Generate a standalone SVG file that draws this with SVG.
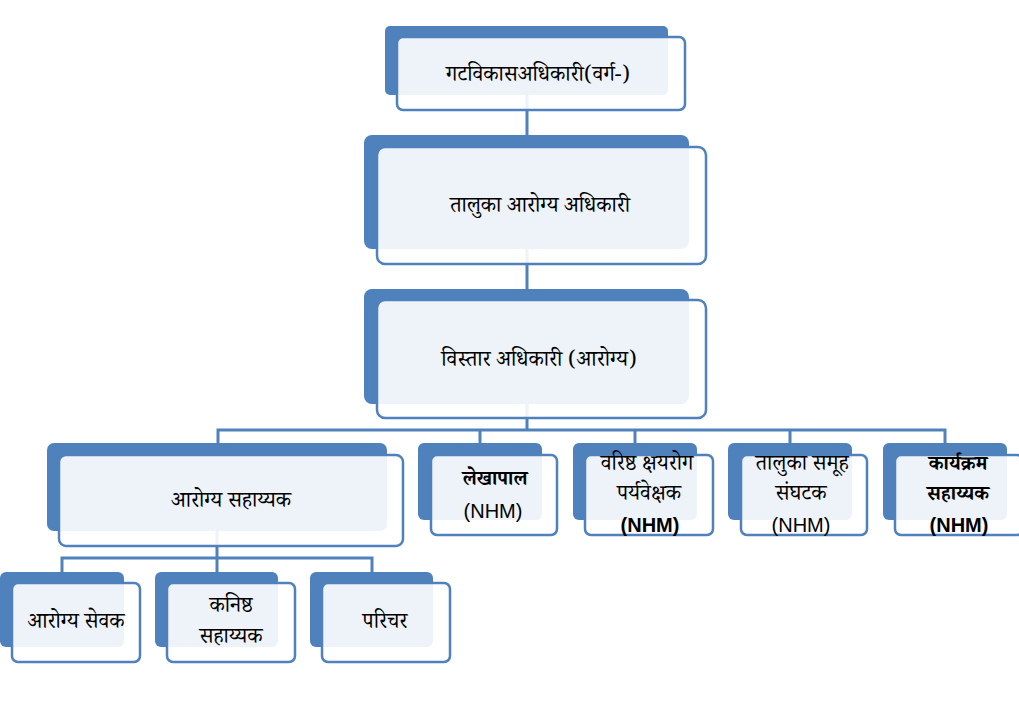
<svg xmlns="http://www.w3.org/2000/svg" width="1019" height="701" viewBox="0 0 1019 701">
<style>
.back{fill:#4F81BD}
.front{fill:#FFFFFF;fill-opacity:0.9;stroke:#4F81BD;stroke-width:2.5}
.conn{fill:none;stroke:#4F81BD;stroke-width:3}
.t{font-family:"Noto Serif Devanagari","Noto Sans Devanagari","Lohit Devanagari","Noto Sans",serif;font-size:21.5px;fill:#000;text-anchor:middle}
.tb{font-weight:bold;font-size:20px}
.n{font-family:"Liberation Sans",Arial,sans-serif;font-size:20px;fill:#000;text-anchor:middle}
</style>
<rect width="1019" height="701" fill="#FFFFFF"/>
<g id="connectors">
<path class="conn" d="M527,95 V135"/>
<path class="conn" d="M527,249 V289"/>
<path class="conn" d="M527,404 V430 M218,443 V430 H945 V443 M480,430 V443 M635,430 V443 M790,430 V443"/>
<path class="conn" d="M217,531 V558 M62,572 V558 H372 V572 M217,558 V572"/>
</g>
<g id="node-gatvikas">
<rect class="back" x="385" y="26" width="283" height="69" rx="5"/>
<rect class="front" x="397" y="37" width="288" height="73" rx="6"/>
<text class="t" x="538" y="81">गटविकासअधिकारी(वर्ग-)</text>
</g>
<g id="node-taluka-aarogya">
<rect class="back" x="364" y="135" width="325" height="114" rx="8"/>
<rect class="front" x="377" y="147" width="329" height="117" rx="8"/>
<text class="t" x="540" y="212">तालुका आरोग्य अधिकारी</text>
</g>
<g id="node-vistar">
<rect class="back" x="364" y="289" width="325" height="115" rx="8"/>
<rect class="front" x="377" y="300" width="329" height="118" rx="8"/>
<text class="t" x="539" y="366">विस्तार अधिकारी (आरोग्य)</text>
</g>
<g id="node-aarogya-sahayak">
<rect class="back" x="47" y="443" width="340" height="88" rx="7"/>
<rect class="front" x="59" y="455" width="344" height="91" rx="7"/>
<text class="t" x="231" y="507">आरोग्य सहाय्यक</text>
</g>
<g id="node-lekhapal">
<rect class="back" x="418" y="443" width="124" height="77" rx="6"/>
<rect class="front" x="431" y="455" width="126" height="80" rx="6"/>
<text class="t tb" x="495" y="485">लेखापाल</text>
<text class="n" x="493" y="518">(NHM)</text>
</g>
<g id="node-varishtha">
<rect class="back" x="573" y="443" width="124" height="77" rx="6"/>
<rect class="front" x="585" y="455" width="128" height="80" rx="6"/>
<text class="t" x="647" y="470">वरिष्ठ क्षयरोग</text>
<text class="t" x="649" y="500">पर्यवेक्षक</text>
<text class="n tb" x="650" y="532">(NHM)</text>
</g>
<g id="node-taluka-samuh">
<rect class="back" x="728" y="443" width="124" height="77" rx="6"/>
<rect class="front" x="741" y="455" width="126" height="80" rx="6"/>
<text class="t" x="802" y="470">तालुका समूह</text>
<text class="t" x="801" y="500">संघटक</text>
<text class="n" x="801" y="532">(NHM)</text>
</g>
<g id="node-karyakram">
<rect class="back" x="883" y="443" width="124" height="77" rx="6"/>
<rect class="front" x="895" y="455" width="128" height="80" rx="6"/>
<text class="t tb" x="958" y="470">कार्यक्रम</text>
<text class="t tb" x="958" y="500">सहाय्यक</text>
<text class="n tb" x="959" y="532">(NHM)</text>
</g>
<g id="node-aarogya-sevak">
<rect class="back" x="0" y="572" width="124" height="75" rx="6"/>
<rect class="front" x="12" y="583" width="128" height="79" rx="6"/>
<text class="t" x="76" y="628">आरोग्य सेवक</text>
</g>
<g id="node-kanishtha">
<rect class="back" x="155" y="572" width="123" height="75" rx="6"/>
<rect class="front" x="167" y="583" width="128" height="79" rx="6"/>
<text class="t" x="231" y="612">कनिष्ठ</text>
<text class="t" x="231" y="643">सहाय्यक</text>
</g>
<g id="node-parichar">
<rect class="back" x="310" y="572" width="123" height="75" rx="6"/>
<rect class="front" x="322" y="583" width="128" height="79" rx="6"/>
<text class="t" x="385" y="628">परिचर</text>
</g>
</svg>
